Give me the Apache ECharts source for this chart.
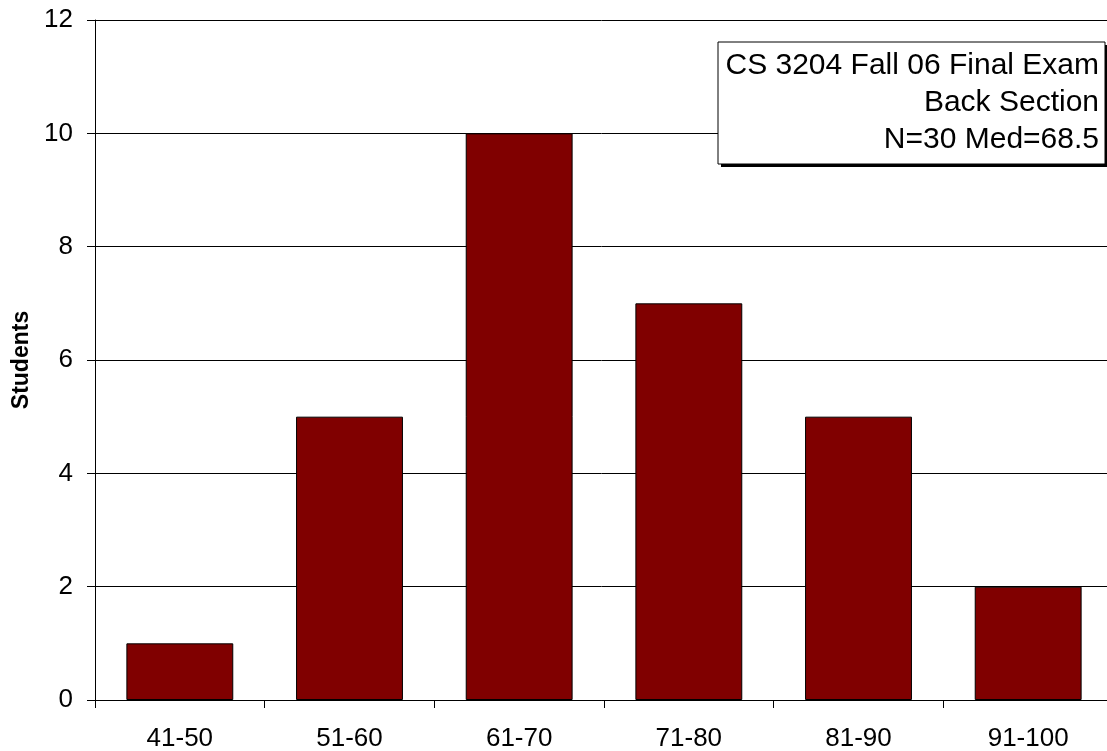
<!DOCTYPE html>
<html>
<head>
<meta charset="utf-8">
<script src="https://cdn.jsdelivr.net/npm/echarts@6/dist/echarts.min.js"></script>
<style>
  html, body { margin: 0; padding: 0; background: #fff; }
  #chart { width: 1107px; height: 751px; }
</style>
</head>
<body>
<div id="chart"></div>
<script>
// Score ranges and how many students fell in each
const scoreRanges = ['41-50', '51-60', '61-70', '71-80', '81-90', '91-100'];
const studentCounts = [1, 5, 10, 7, 5, 2];
const infoLines = ['CS 3204 Fall 06 Final Exam', 'Back Section', 'N=30 Med=68.5'];

const FONT = '"Liberation Sans", Arial, Helvetica, sans-serif';

const chart = echarts.init(document.getElementById('chart'), null, { renderer: 'canvas' });

const boxX = 718, boxY = 42, boxW = 387, boxH = 122;

chart.setOption({
  animation: false,
  backgroundColor: '#fff',
  grid: { left: 95, right: -6, top: 20, bottom: 51, containLabel: false, outerBoundsMode: 'none' },
  xAxis: {
    type: 'category',
    data: scoreRanges,
    axisLine: { show: true, lineStyle: { color: '#000', width: 1 } },
    axisTick: { show: true, inside: false, length: 8, alignWithLabel: false, lineStyle: { color: '#000' } },
    axisLabel: { color: '#000', fontSize: 26, fontFamily: FONT, margin: 26 },
    splitLine: { show: false }
  },
  yAxis: {
    type: 'value',
    min: 0,
    max: 12,
    interval: 2,
    name: 'Students',
    nameLocation: 'middle',
    nameGap: 60,
    nameTextStyle: { color: '#000', fontSize: 23, fontWeight: 'bold', fontFamily: FONT },
    axisLine: { show: true, lineStyle: { color: '#000', width: 1 } },
    axisTick: { show: true, inside: false, length: 8, lineStyle: { color: '#000' } },
    axisLabel: { color: '#000', fontSize: 26, fontFamily: FONT, margin: 22 },
    splitLine: { show: true, lineStyle: { color: '#000', width: 1 } }
  },
  series: [{
    type: 'bar',
    data: studentCounts,
    barCategoryGap: '37%',
    itemStyle: { color: '#800000', borderColor: '#000', borderWidth: 1 }
  }],
  graphic: [
    { type: 'rect', shape: { x: boxX + 3, y: boxY + 3, width: boxW, height: boxH }, style: { fill: '#000' }, z: 100 },
    { type: 'rect', shape: { x: boxX, y: boxY, width: boxW, height: boxH }, style: { fill: '#fff', stroke: '#000', lineWidth: 1 }, z: 101 },
    ...infoLines.map((t, i) => ({
      type: 'text',
      x: 1099,
      y: 66 + i * 37,
      z: 102,
      style: { text: t, align: 'right', verticalAlign: 'middle', fill: '#000', fontSize: 30, fontFamily: FONT }
    }))
  ]
});
</script>
</body>
</html>
